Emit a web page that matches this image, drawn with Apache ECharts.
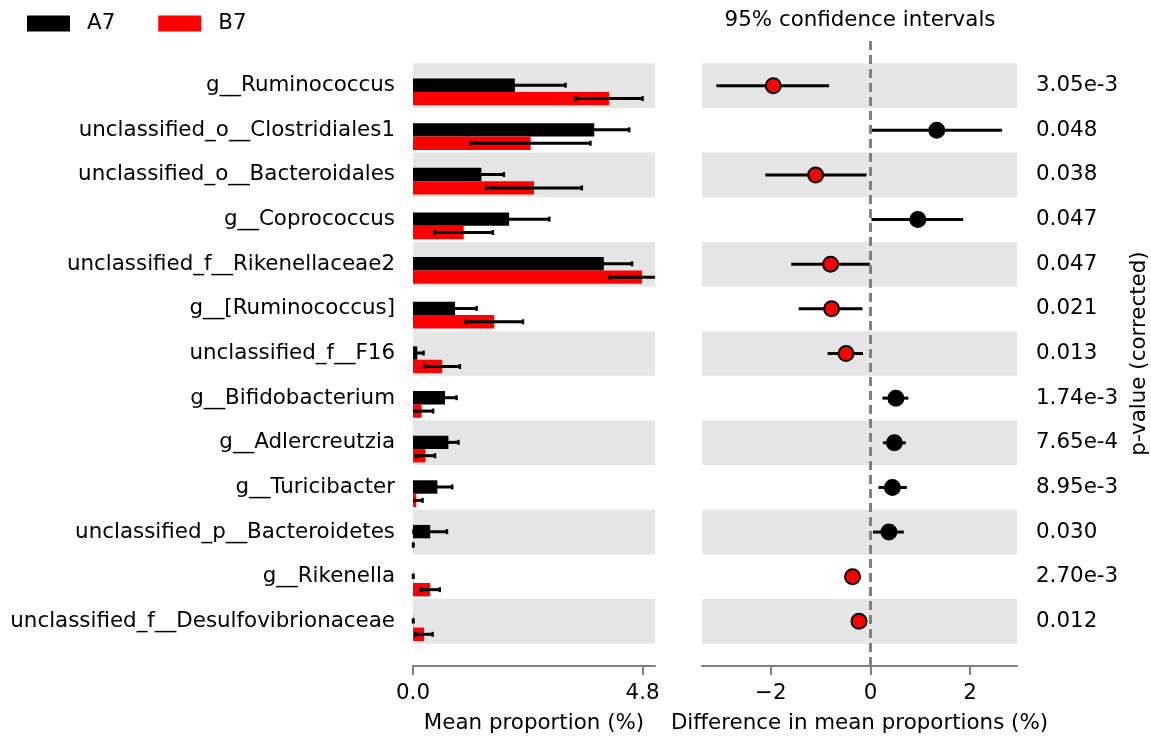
<!DOCTYPE html>
<html>
<head>
<meta charset="utf-8">
<script src="https://cdn.jsdelivr.net/npm/echarts@6/dist/echarts.min.js"></script>
<style>
  html, body { margin: 0; padding: 0; background: #fff; }
  #chart { width: 1151px; height: 743px; }
</style>
</head>
<body>
<div id="chart"></div>
<script>
const categories = [
  'g__Ruminococcus',
  'unclassified_o__Clostridiales1',
  'unclassified_o__Bacteroidales',
  'g__Coprococcus',
  'unclassified_f__Rikenellaceae2',
  'g__[Ruminococcus]',
  'unclassified_f__F16',
  'g__Bifidobacterium',
  'g__Adlercreutzia',
  'g__Turicibacter',
  'unclassified_p__Bacteroidetes',
  'g__Rikenella',
  'unclassified_f__Desulfovibrionaceae'
];

// mean proportion (%) and std dev per group
const a7Mean = [2.13, 3.79, 1.43, 2.01, 3.99, 0.88, 0.09, 0.67, 0.74, 0.51, 0.36, 0.005, 0.005];
const a7Sd   = [1.06, 0.73, 0.47, 0.84, 0.59, 0.45, 0.13, 0.24, 0.21, 0.31, 0.35, 0.005, 0.005];
const b7Mean = [4.10, 2.46, 2.53, 1.06, 4.79, 1.70, 0.61, 0.18, 0.26, 0.07, 0.005, 0.36, 0.23];
const b7Sd   = [0.70, 1.25, 1.00, 0.61, 0.68, 0.60, 0.37, 0.24, 0.20, 0.13, 0.005, 0.20, 0.18];

// difference in mean proportions and 95% CI
const diff   = [-1.95, 1.33, -1.10, 0.95, -0.80, -0.78, -0.49, 0.51, 0.48, 0.44, 0.37, -0.36, -0.23];
const ciLow  = [-3.09, 0.02, -2.11, 0.02, -1.59, -1.44, -0.86, 0.24, 0.25, 0.16, 0.05, -0.50, -0.35];
const ciHigh = [-0.83, 2.64, -0.08, 1.86, -0.01, -0.16, -0.15, 0.76, 0.71, 0.73, 0.67, -0.21, -0.11];

const pValues = ['3.05e-3', '0.048', '0.038', '0.047', '0.047', '0.021', '0.013',
                 '1.74e-3', '7.65e-4', '8.95e-3', '0.030', '2.70e-3', '0.012'];

const propTicks = [0, 4.8];
const diffTicks = [-2, 0, 2];

const FONT = 'DejaVu Sans';
const FS = 21.4;
const rows = categories.map((c, i) => i);
const bandRows = rows.filter(i => i % 2 === 0);

function clampX(x, cs) {
  return Math.max(cs.x, Math.min(cs.x + cs.width, x));
}

function bandItem(params, api) {
  const cs = params.coordSys;
  const i = api.value(0);
  const top = api.coord([0, i - 0.5])[1];
  const bot = api.coord([0, i + 0.5])[1];
  return {
    type: 'rect',
    shape: { x: cs.x, y: top, width: cs.width, height: bot - top },
    style: { fill: '#e5e5e5' },
    silent: true
  };
}

function barItem(offset, color) {
  return function (params, api) {
    const cs = params.coordSys;
    const i = api.value(0);
    const m = api.value(1);
    const sd = api.value(2);
    const p0 = api.coord([0, i + offset]);
    const p1 = api.coord([m, i + offset + 0.3]);
    const yc = (p0[1] + p1[1]) / 2;
    const loRaw = api.coord([m - sd, 0])[0];
    const hiRaw = api.coord([m + sd, 0])[0];
    const lo = clampX(loRaw, cs);
    const hi = clampX(hiRaw, cs);
    const children = [
      { type: 'rect', shape: { x: p0[0], y: p0[1], width: p1[0] - p0[0], height: p1[1] - p0[1] },
        style: { fill: color } },
      { type: 'line', shape: { x1: lo, y1: yc, x2: hi, y2: yc },
        style: { stroke: '#000', lineWidth: 3 } }
    ];
    if (loRaw >= cs.x) {
      children.push({ type: 'line', shape: { x1: lo, y1: yc - 2.5, x2: lo, y2: yc + 2.5 },
        style: { stroke: '#000', lineWidth: 2.5 } });
    }
    if (hiRaw <= cs.x + cs.width) {
      children.push({ type: 'line', shape: { x1: hi, y1: yc - 2.5, x2: hi, y2: yc + 2.5 },
        style: { stroke: '#000', lineWidth: 2.5 } });
    }
    return { type: 'group', children: children };
  };
}

function ciItem(params, api) {
  const a = api.coord([api.value(0), api.value(2)]);
  const b = api.coord([api.value(1), api.value(2)]);
  return {
    type: 'line',
    shape: { x1: a[0], y1: a[1], x2: b[0], y2: b[1] },
    style: { stroke: '#000', lineWidth: 3 }
  };
}

const rowAxis = {
  type: 'value',
  min: -1,
  max: 13,
  inverse: true,
  axisLine: { show: false },
  axisTick: { show: false },
  splitLine: { show: false }
};

const axisLineStyle = { onZero: false, lineStyle: { color: '#808080', width: 2 } };
const textBase = { fontFamily: FONT, fontSize: FS, color: '#000' };

const chart = echarts.init(document.getElementById('chart'));
chart.setOption({
  animation: false,
  textStyle: { fontFamily: FONT },
  title: {
    text: '95% confidence intervals',
    left: 855,
    top: 5,
    textAlign: 'center',
    textStyle: Object.assign({ fontWeight: 'normal' }, textBase)
  },
  legend: {
    left: 27,
    top: 13,
    padding: 0,
    itemWidth: 43,
    itemHeight: 16,
    itemGap: 43,
    textStyle: Object.assign({ padding: [0, 0, 0, 12] }, textBase),
    data: [
      { name: 'A7', icon: 'rect', itemStyle: { color: '#000' } },
      { name: 'B7', icon: 'rect', itemStyle: { color: '#ff0000' } }
    ]
  },
  grid: [
    { left: 413, right: 496, top: 41, bottom: 77 },
    { left: 702, right: 133, top: 41, bottom: 77 }
  ],
  xAxis: [
    {
      gridIndex: 0, type: 'value', min: 0, max: 5.06,
      axisLine: axisLineStyle,
      axisTick: { show: true, length: 9, lineStyle: { color: '#808080', width: 2 }, customValues: propTicks },
      axisLabel: Object.assign({ customValues: propTicks, formatter: v => v.toFixed(1), margin: 17 }, textBase),
      splitLine: { show: false },
      name: 'Mean proportion (%)', nameLocation: 'middle', nameGap: 47,
      nameTextStyle: textBase
    },
    {
      gridIndex: 1, type: 'value', min: -3.38, max: 2.94,
      axisLine: axisLineStyle,
      axisTick: { show: true, length: 9, lineStyle: { color: '#808080', width: 2 }, customValues: diffTicks },
      axisLabel: Object.assign({ customValues: diffTicks, formatter: v => (v < 0 ? '\u2212' + Math.abs(v) : String(v)), margin: 17 }, textBase),
      splitLine: { show: false },
      name: 'Difference in mean proportions (%)', nameLocation: 'middle', nameGap: 47,
      nameTextStyle: textBase
    }
  ],
  yAxis: [
    Object.assign({}, rowAxis, {
      gridIndex: 0,
      axisLabel: Object.assign({ customValues: rows, formatter: v => categories[v], margin: 18, padding: [4, 0, 0, 0] }, textBase)
    }),
    Object.assign({}, rowAxis, {
      gridIndex: 1,
      position: 'right',
      axisLabel: Object.assign({ customValues: rows, formatter: v => pValues[v], margin: 19, padding: [4, 0, 0, 0] }, textBase),
      name: 'p-value (corrected)', nameLocation: 'middle', nameGap: 112, nameRotate: 90,
      nameTextStyle: textBase
    })
  ],
  series: [
    {
      type: 'custom', xAxisIndex: 0, yAxisIndex: 0, z: 1, silent: true,
      renderItem: bandItem, data: bandRows.map(i => [i]), encode: { y: 0 }
    },
    {
      type: 'custom', xAxisIndex: 1, yAxisIndex: 1, z: 1, silent: true,
      renderItem: bandItem, data: bandRows.map(i => [i]), encode: { y: 0 },
      markLine: {
        silent: true, symbol: 'none', label: { show: false },
        lineStyle: { color: '#808080', width: 3, type: [9, 5] },
        data: [{ xAxis: 0 }]
      }
    },
    {
      name: 'A7', type: 'custom', xAxisIndex: 0, yAxisIndex: 0, z: 3,
      itemStyle: { color: '#000' },
      renderItem: barItem(-0.16, '#000000'),
      data: rows.map(i => [i, a7Mean[i], a7Sd[i]]), encode: { y: 0, x: 1 }
    },
    {
      name: 'B7', type: 'custom', xAxisIndex: 0, yAxisIndex: 0, z: 3,
      itemStyle: { color: '#ff0000' },
      renderItem: barItem(0.14, '#ff0000'),
      data: rows.map(i => [i, b7Mean[i], b7Sd[i]]), encode: { y: 0, x: 1 }
    },
    {
      type: 'custom', xAxisIndex: 1, yAxisIndex: 1, z: 4, silent: true,
      renderItem: ciItem,
      data: rows.map(i => [ciLow[i], ciHigh[i], i]), encode: { x: [0, 1], y: 2 }
    },
    {
      type: 'scatter', xAxisIndex: 1, yAxisIndex: 1, z: 5, silent: true,
      symbolSize: 15,
      data: rows.map(i => ({
        value: [diff[i], i],
        itemStyle: { color: diff[i] < 0 ? '#ff0000' : '#000000', borderColor: '#000', borderWidth: 2, opacity: 1 }
      }))
    }
  ]
});
</script>
</body>
</html>
